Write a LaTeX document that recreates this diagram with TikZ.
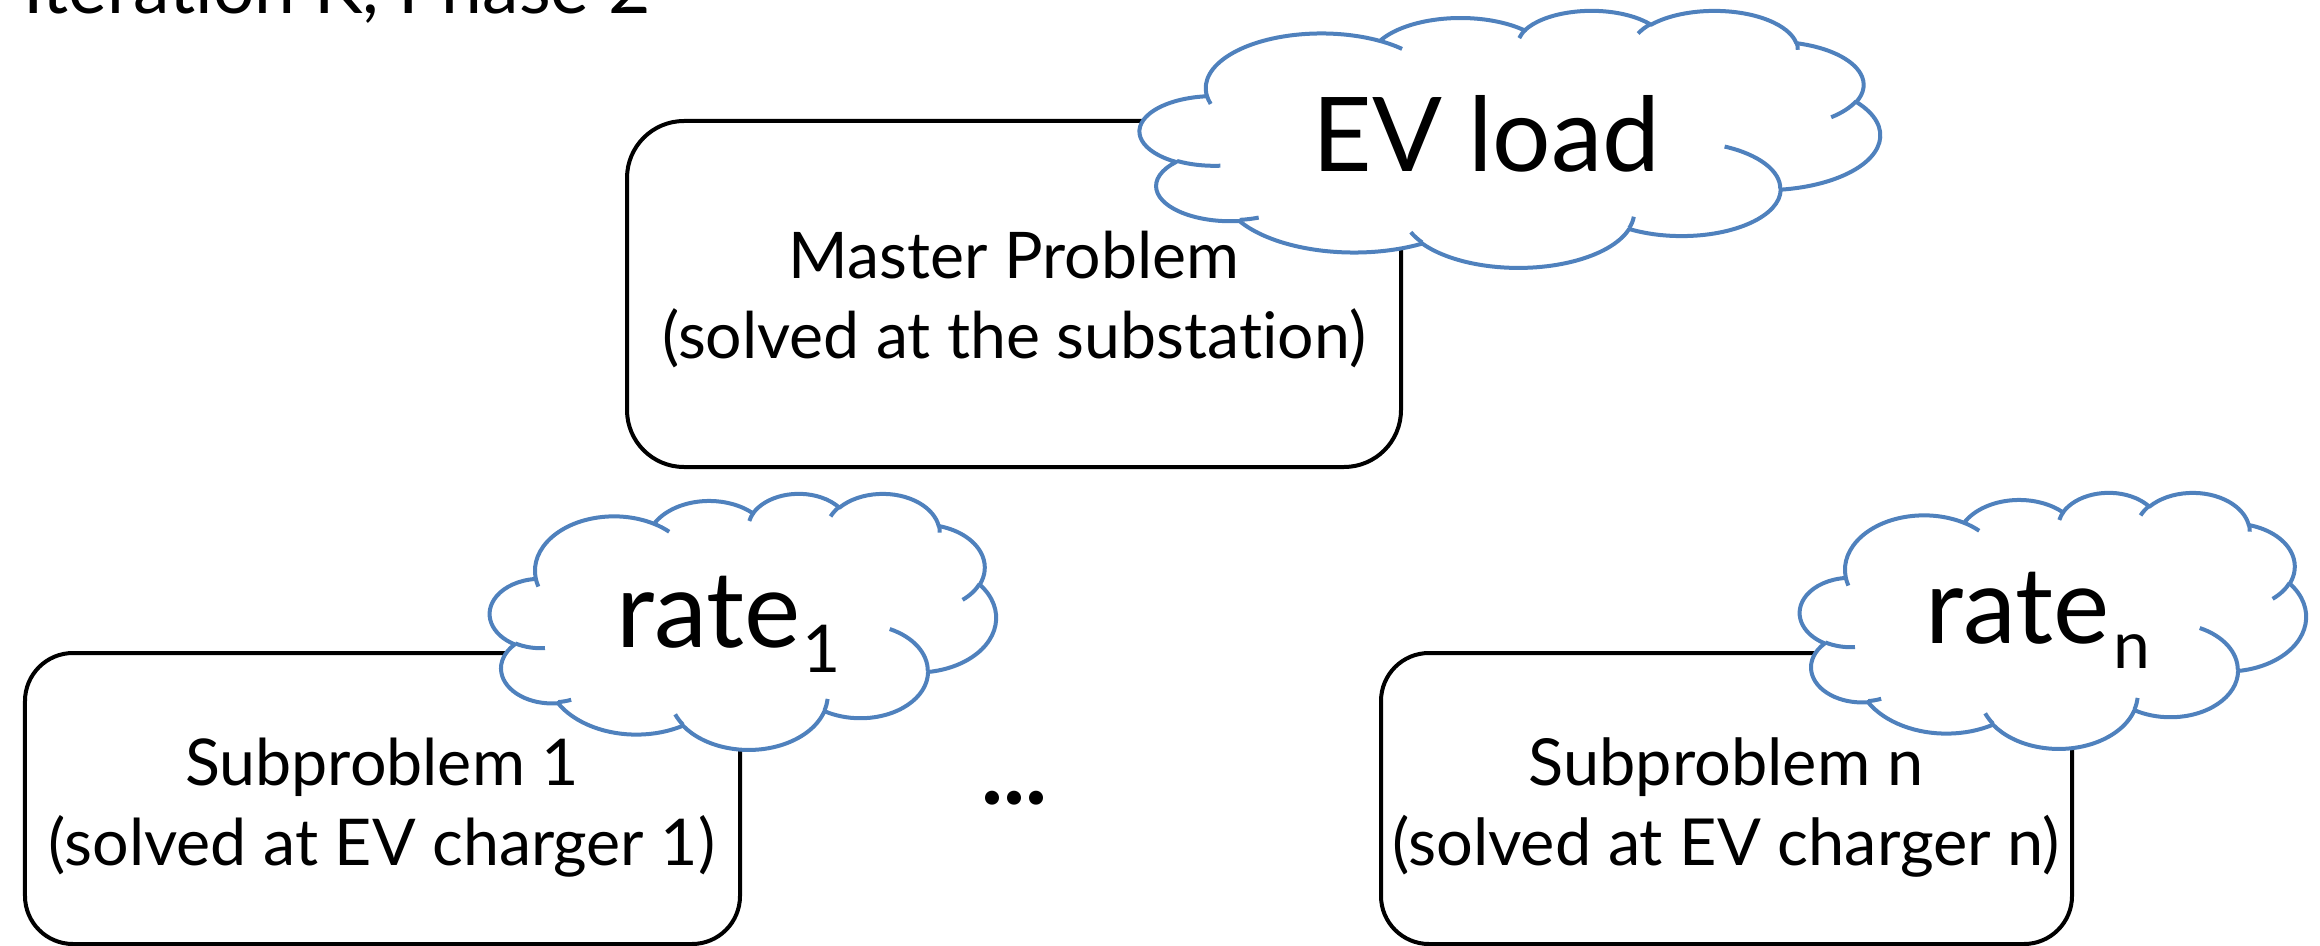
\documentclass[tikz,border=0pt]{standalone}
\usepackage{fontspec}
\setmainfont{Lato}[Ligatures=NoCommon]
\definecolor{cloudblue}{RGB}{79,129,189}
\newlength\fitlen
\newcommand\fitfont[3]{%
  \settowidth\fitlen{\fontsize{10pt}{12pt}\selectfont #3}%
  \pgfmathsetmacro#1{10*#2/\fitlen}}
\AtBeginDocument{%
\fitfont{\titlesz}{313.5}{Iteration K, Phase 2}%
\fitfont{\mastersz}{352}{(solved at the substation)}%
\fitfont{\subsz}{333.5}{(solved at EV charger 1)}%
\fitfont{\subnsz}{334}{(solved at EV charger n)}%
\fitfont{\evsz}{174}{EV load}%
\fitfont{\ratesz}{92}{rate}%
\fitfont{\dotsz}{33}{\bfseries ...}%
\pgfmathsetmacro\subscrsz{0.62*\ratesz}}
\newcommand\cldprep[5]{%
  \pgfmathsetmacro\cldtmpa{atan2((#2)*sin(#4),(#3)*cos(#4))}%
  \pgfmathsetmacro\cldtmpb{atan2((#2)*sin((#4)+(#5)),(#3)*cos((#4)+(#5)))}%
  \pgfmathsetmacro\cldtmpd{mod(\cldtmpb-\cldtmpa+720,360)}%
  \expandafter\let\csname clds#1\endcsname\cldtmpa
  \expandafter\let\csname cldd#1\endcsname\cldtmpd}
\cldprep{A}{6.753}{9.190}{-190.48748}{123.78053}
\cldprep{B}{5.333}{7.267}{-144.10238}{89.94523}
\cldprep{C}{4.365}{5.945}{-145.80792}{99.72302}
\cldprep{D}{4.857}{6.595}{-130.98607}{117.24173}
\cldprep{E}{5.333}{7.273}{-78.70888}{109.02692}
\cldprep{F}{6.775}{9.220}{-46.26725}{130.26900}
\cldprep{G}{5.785}{7.867}{0.62502}{114.03333}
\cldprep{H}{6.752}{9.215}{22.45160}{115.17255}
\cldprep{I}{7.720}{10.543}{66.24263}{75.71102}
\cldprep{J}{4.360}{5.918}{-274.94208}{146.73557}
\cldprep{K}{4.345}{5.945}{-246.82850}{152.51885}
\cldprep{a}{4.345}{5.945}{86.742}{26.4295}
\cldprep{b}{4.360}{5.918}{73.61047}{11.44747}
\cldprep{c}{6.752}{9.215}{137.62415}{14.0811}
\cldprep{d}{6.752}{9.215}{6.45327}{15.99835}
\cldprep{e}{5.785}{7.867}{-70.29235}{70.91737}
\cldprep{f}{5.333}{7.273}{30.31803}{27.7515}
\cldprep{g}{4.857}{6.595}{-13.74433}{14.8589}
\cldprep{h}{4.857}{6.595}{-149.18145}{18.19537}
\cldprep{i}{4.365}{5.945}{-163.49427}{17.68635}
\cldprep{j}{6.753}{9.190}{-66.70695}{12.31935}
\cldprep{k}{6.753}{9.190}{157.65435}{11.85817}
\newcommand\drawcloud[4]{%
  \begin{scope}[shift={#2}, xscale=#3, yscale=#4]
    \path[cloudline, fill=white] (3.900,14.370) coordinate (#1)
      arc[start angle=\cldsA, delta angle=\clddA, x radius=6.753, y radius=9.190]
      arc[start angle=\cldsB, delta angle=\clddB, x radius=5.333, y radius=7.267]
      arc[start angle=\cldsC, delta angle=\clddC, x radius=4.365, y radius=5.945]
      arc[start angle=\cldsD, delta angle=\clddD, x radius=4.857, y radius=6.595]
      arc[start angle=\cldsE, delta angle=\clddE, x radius=5.333, y radius=7.273]
      arc[start angle=\cldsF, delta angle=\clddF, x radius=6.775, y radius=9.220]
      arc[start angle=\cldsG, delta angle=\clddG, x radius=5.785, y radius=7.867]
      arc[start angle=\cldsH, delta angle=\clddH, x radius=6.752, y radius=9.215]
      arc[start angle=\cldsI, delta angle=\clddI, x radius=7.720, y radius=10.543]
      arc[start angle=\cldsJ, delta angle=\clddJ, x radius=4.360, y radius=5.918]
      arc[start angle=\cldsK, delta angle=\clddK, x radius=4.345, y radius=5.945]
      -- cycle;
    \draw[cloudline]
      (4.693,26.177) arc[start angle=\cldsa, delta angle=\cldda, x radius=4.345, y radius=5.945]
      (6.928,34.899) arc[start angle=\cldsb, delta angle=\clddb, x radius=4.360, y radius=5.918]
      (16.478,39.090) arc[start angle=\cldsc, delta angle=\clddc, x radius=6.752, y radius=9.215]
      (28.827,34.751) arc[start angle=\cldsd, delta angle=\clddd, x radius=6.752, y radius=9.215]
      (34.129,22.954) arc[start angle=\cldse, delta angle=\cldde, x radius=5.785, y radius=7.867]
      (41.798,15.354) arc[start angle=\cldsf, delta angle=\clddf, x radius=5.333, y radius=7.273]
      (38.324,5.426) arc[start angle=\cldsg, delta angle=\clddg, x radius=4.857, y radius=6.595]
      (29.078,3.952) arc[start angle=\cldsh, delta angle=\clddh, x radius=4.857, y radius=6.595]
      (22.141,4.720) arc[start angle=\cldsi, delta angle=\clddi, x radius=4.365, y radius=5.945]
      (14.000,5.192) arc[start angle=\cldsj, delta angle=\clddj, x radius=6.753, y radius=9.190]
      (4.127,15.789) arc[start angle=\cldsk, delta angle=\clddk, x radius=6.753, y radius=9.190];
  \end{scope}}
\tikzset{
  box/.style={draw=black, line width=2pt, rectangle, inner sep=0pt},
  txt/.style={inner sep=0pt, text=black},
  fs/.style={font=\fontsize{#1pt}{#1pt}\selectfont},
  cloudline/.style={draw=cloudblue, line width=2pt, line join=round}
}
\begin{document}
\begin{tikzpicture}[xscale=1.75730, yscale=-1.75730]
\path[use as bounding box, clip] (0,0) rectangle (23.20,9.46);
% title
\node[txt, fs=\titlesz, anchor=base west] (title) at (0.23,0.14) {Iteration K, Phase 2};
% boxes
\node[box, minimum width=387pt, minimum height=173pt, rounded corners=28.5pt] (master) at (10.14,2.94) {};
\node[box, minimum width=357.5pt, minimum height=145.5pt, rounded corners=24pt] (sub1) at (3.825,7.985) {};
\node[box, minimum width=345.5pt, minimum height=145.5pt, rounded corners=24pt] (subn) at (17.265,7.985) {};
% clouds
\drawcloud{evcloud}{(11.40,0.10)}{0.171296}{0.0594907}
\drawcloud{rcloud1}{(4.90,4.93)}{0.117130}{0.0592593}
\drawcloud{rcloudn}{(18.00,4.92)}{0.117130}{0.0592593}
% texts
\node[txt, fs=\mastersz, anchor=base] (mt1) at (10.14,2.79) {Master Problem};
\node[txt, fs=\mastersz, anchor=base] (mt2) at (10.14,3.58) {(solved at the substation)};
\node[txt, fs=\subsz, anchor=base] (s1t1) at (3.82,7.85) {Subproblem 1};
\node[txt, fs=\subsz, anchor=base] (s1t2) at (3.82,8.65) {(solved at EV charger 1)};
\node[txt, fs=\subnsz, anchor=base] (snt1) at (17.26,7.85) {Subproblem n};
\node[txt, fs=\subnsz, anchor=base] (snt2) at (17.26,8.65) {(solved at EV charger n)};
\node[txt, fs=\dotsz, anchor=base west] (dots) at (9.81,8.04) {\bfseries ...};
\node[txt, fs=\evsz, anchor=base west] (evt) at (13.12,1.72) {EV load};
\node[txt, fs=\ratesz, anchor=base west] (r1t) at (6.16,6.47) {rate};
\node[txt, fs=\subscrsz, anchor=base west] (r1s) at (8.02,6.72) {1};
\node[txt, fs=\ratesz, anchor=base west] (rnt) at (19.25,6.43) {rate};
\node[txt, fs=\subscrsz, anchor=base west] (rns) at (21.13,6.68) {n};
\end{tikzpicture}
\end{document}
